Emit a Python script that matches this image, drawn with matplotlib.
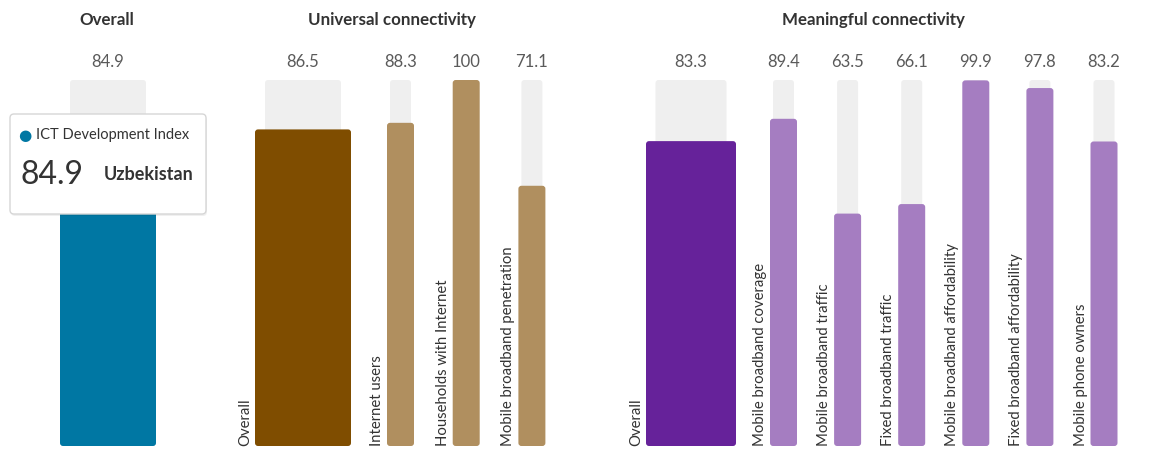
import matplotlib
matplotlib.use("Agg")
import matplotlib.pyplot as plt
from matplotlib.patches import FancyBboxPatch
from matplotlib.transforms import IdentityTransform

plt.rcParams['font.family'] = ['Lato', 'DejaVu Sans']

# data
overall_labels = ["Overall"]
overall_vals = [84.9]
universal_labels = ["Overall", "Internet users", "Households with Internet",
                    "Mobile broadband penetration"]
universal_vals = [86.5, 88.3, 100, 71.1]
meaningful_labels = ["Overall", "Mobile broadband coverage", "Mobile broadband traffic",
                     "Fixed broadband traffic", "Mobile broadband affordability",
                     "Fixed broadband affordability", "Mobile phone owners"]
meaningful_vals = [83.3, 89.4, 63.5, 66.1, 99.9, 97.8, 83.2]
country = "Uzbekistan"
index_name = "ICT Development Index"

W, H = 1153, 451
PX_PER_UNIT = 3.66      # vertical pixels per index point
BASE_PX = 5             # pixels below the zero line

GREY = "#efefef"
TEXT = "#333333"

# layout: (title, title centre, labels, values, dark, light, wide centre, wide w, grey w,
#          first narrow centre, narrow step, show labels)
panels = [
    ("Overall", 107, overall_labels, overall_vals, "#0077a3", "#0077a3", 108, 96, 76, 0, 0, False),
    ("Universal connectivity", 392, universal_labels, universal_vals, "#7f4d00", "#b08f5f",
     303, 96, 76, 400.5, 65.7, True),
    ("Meaningful connectivity", 873, meaningful_labels, meaningful_vals, "#66229a", "#a57dc1",
     691, 90, 71, 783.5, 64.1, True),
]
NARROW_W, NARROW_GREY_W = 27, 21

fig = plt.figure(figsize=(W / 100, H / 100), dpi=100)
ax = fig.add_axes([0, 0, 1, 1])
ax.set_xlim(0, W)
ax.set_ylim(-BASE_PX / PX_PER_UNIT, (H - BASE_PX) / PX_PER_UNIT)
ax.axis("off")


def rounded(bars, r=3):
    # swap plain rectangles for rounded ones, keeping their geometry
    for rect in bars:
        x, y = rect.get_x(), rect.get_y()
        w, h = rect.get_width(), rect.get_height()
        p = FancyBboxPatch((x, y), w, h,
                           boxstyle=f"round,pad=0,rounding_size={r}",
                           mutation_aspect=1 / PX_PER_UNIT,
                           facecolor=rect.get_facecolor(), edgecolor="none",
                           zorder=rect.get_zorder())
        rect.remove()
        ax.add_patch(p)


for (title, tx, labels, vals, dark, light, wc, ww, wg, nc, step, show) in panels:
    xs = [wc] + [nc + step * i for i in range(len(vals) - 1)]
    widths = [ww] + [NARROW_W] * (len(vals) - 1)
    gwidths = [wg] + [NARROW_GREY_W] * (len(vals) - 1)
    colors = [dark] + [light] * (len(vals) - 1)
    rounded(ax.bar(xs, [100] * len(vals), width=gwidths, color=GREY, zorder=1))
    rounded(ax.bar(xs, vals, width=widths, color=colors, zorder=2))
    for x, v, w, lab in zip(xs, vals, widths, labels):
        ax.annotate(f"{v:g}", (x, 100), xytext=(0, 18), textcoords="offset pixels",
                    ha="center", va="center", fontsize=12, color="#5a5a5a")
        if show:
            ax.text(x - w / 2 - 3, 0, lab, rotation=90, rotation_mode="anchor",
                    ha="left", va="bottom", fontsize=10.7, color=TEXT)
    fig.text(tx / W, 1 - 20 / H, title, ha="center", va="center",
             fontsize=12.2, fontweight="bold", color=TEXT)

# tooltip
tip_x0, tip_y0, tip_x1, tip_y1 = 10, 114, 206, 214
shadow = FancyBboxPatch((tip_x0 + 1, H - tip_y1 - 2), tip_x1 - tip_x0, tip_y1 - tip_y0,
                        boxstyle="round,pad=0,rounding_size=4", transform=IdentityTransform(),
                        facecolor="#000000", alpha=0.06, edgecolor="none", zorder=5)
tip = FancyBboxPatch((tip_x0, H - tip_y1), tip_x1 - tip_x0, tip_y1 - tip_y0,
                     boxstyle="round,pad=0,rounding_size=4", transform=IdentityTransform(),
                     facecolor="white", edgecolor="#d6d6d6", linewidth=1, zorder=6)
fig.patches.extend([shadow, tip])
fig.text(25 / W, 1 - 135 / H, "\u25cf", ha="center", va="center", fontsize=11,
         color="#0077a3", zorder=7, family="DejaVu Sans")
fig.text(36 / W, 1 - 135 / H, index_name, ha="left", va="center", fontsize=10.5,
         color=TEXT, zorder=7)
fig.text(20 / W, 1 - 175 / H, f"{overall_vals[0]:g}", ha="left", va="center",
         fontsize=23, color=TEXT, zorder=7)
fig.text(104 / W, 1 - 175 / H, country, ha="left", va="center", fontsize=13,
         color=TEXT, zorder=7, fontweight="bold")

fig.savefig("out.png", dpi=100)
